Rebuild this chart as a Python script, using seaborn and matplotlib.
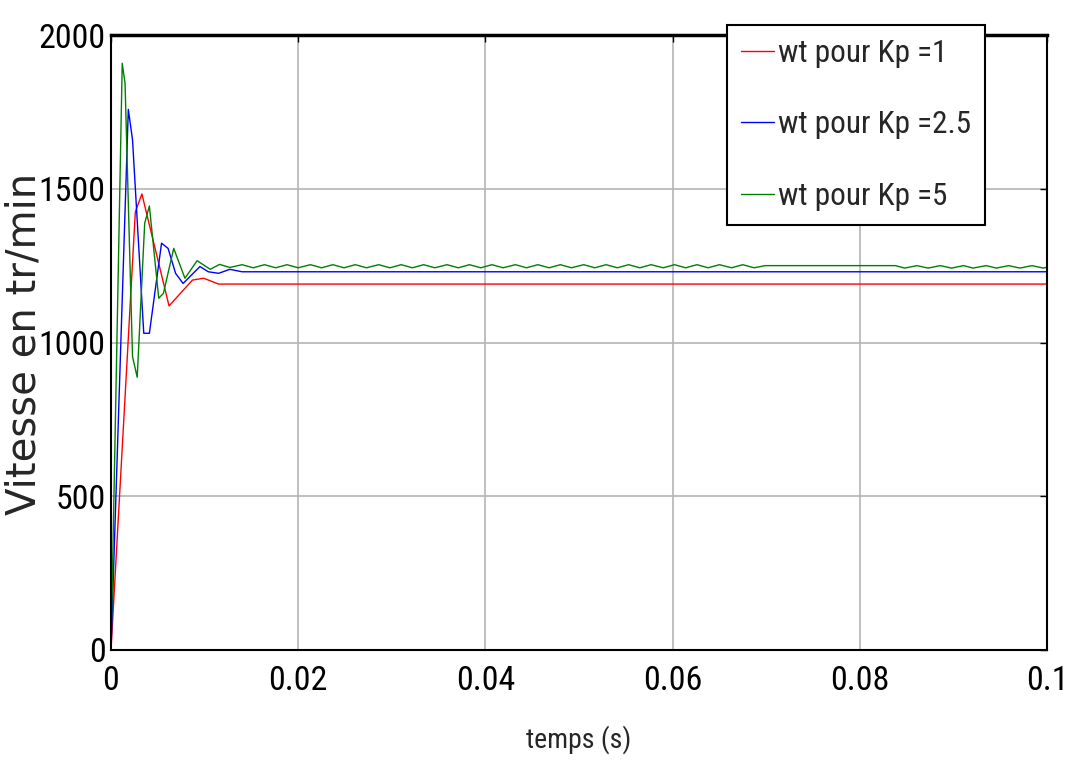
import matplotlib
matplotlib.use("Agg")
import matplotlib.pyplot as plt
from matplotlib import font_manager
import pandas as pd
import seaborn as sns

# values (time in s, speed in tr/min)
labels = ['wt pour Kp =1', 'wt pour Kp =2.5', 'wt pour Kp =5']
colors = ['#ff0000', '#0000ff', '#008000']

red_t = [0, 0.0026, 0.0033, 0.0062, 0.0087, 0.0099, 0.0115, 0.1]
red_v = [0, 1425, 1483, 1119, 1203, 1209, 1190, 1190]

blue_t = [0, 0.00185, 0.0023, 0.0035, 0.0041, 0.0054, 0.0061, 0.0069,
          0.0077, 0.0095, 0.0104, 0.0115, 0.0127, 0.014, 0.1]
blue_v = [0, 1758, 1659, 1030, 1030, 1323, 1306, 1225,
          1192, 1247, 1230, 1225, 1238, 1230, 1230]

# green: transient, then small ripple, flat stretch, ripple again
green_t = [0, 0.0012, 0.0015, 0.0023, 0.0028, 0.0036, 0.0041, 0.0051,
           0.0056, 0.0067, 0.0079, 0.0092, 0.0106, 0.0116, 0.0127]
green_v = [0, 1908, 1843, 954, 887, 1388, 1444, 1144,
           1160, 1306, 1209, 1266, 1238, 1254, 1244]
ripple_peaks_t = [0.0140, 0.0164, 0.0188, 0.0213, 0.0237, 0.0261, 0.0286, 0.0310,
                  0.0334, 0.0359, 0.0383, 0.0407, 0.0432, 0.0456, 0.0480, 0.0505,
                  0.0529, 0.0553, 0.0577, 0.0602, 0.0626, 0.0650, 0.0675]
ripple_troughs_t = [0.0152, 0.0176, 0.0200, 0.0225, 0.0249, 0.0273, 0.0298, 0.0322,
                    0.0346, 0.0371, 0.0395, 0.0419, 0.0444, 0.0468, 0.0492, 0.0517,
                    0.0541, 0.0565, 0.0590, 0.0614, 0.0638, 0.0663, 0.0687]
ripple_hi, ripple_lo = 1253, 1243
flat_t = [0.0699, 0.0838]
flat_v = [1250, 1250]
late_peaks_t = [0.0861, 0.0886, 0.0911, 0.0935, 0.0959, 0.0984]
late_troughs_t = [0.0848, 0.0873, 0.0898, 0.0921, 0.0946, 0.0971, 0.0996]
late_hi, late_lo = 1250, 1242
end_t, end_v = [0.1], [1245]


def build_frame():
    parts = [
        pd.DataFrame({'t': red_t, 'v': red_v, 'serie': labels[0]}),
        pd.DataFrame({'t': blue_t, 'v': blue_v, 'serie': labels[1]}),
    ]
    g = pd.concat([
        pd.DataFrame({'t': green_t, 'v': green_v}),
        pd.DataFrame({'t': ripple_peaks_t, 'v': ripple_hi}),
        pd.DataFrame({'t': ripple_troughs_t, 'v': ripple_lo}),
        pd.DataFrame({'t': flat_t, 'v': flat_v}),
        pd.DataFrame({'t': late_peaks_t, 'v': late_hi}),
        pd.DataFrame({'t': late_troughs_t, 'v': late_lo}),
        pd.DataFrame({'t': end_t, 'v': end_v}),
    ]).sort_values('t')
    g['serie'] = labels[2]
    parts.append(g)
    return pd.concat(parts, ignore_index=True)


df = build_frame()

sns.set_style('white')

# the reference uses a narrow Arial; use a condensed face if present
installed = {f.name for f in font_manager.fontManager.ttflist}
narrow = next((n for n in ['Liberation Sans Narrow', 'Roboto Condensed', 'Open Sans Condensed']
               if n in installed), None)
if narrow:
    plt.rcParams['font.family'] = [narrow, 'DejaVu Sans']
    tick_size, xlab_size, leg_size = 24.5, 20, 22.5
else:
    plt.rcParams['font.family'] = ['Liberation Sans', 'DejaVu Sans']
    tick_size, xlab_size, leg_size = 21, 18, 20

fig = plt.figure(figsize=(10.69, 7.64), dpi=100)
ax = fig.add_axes([111 / 1069, 1 - 650 / 764, 936 / 1069, 615 / 764])

sns.lineplot(data=df, x='t', y='v', hue='serie', hue_order=labels,
             palette=colors, estimator=None, sort=False, linewidth=1.0,
             ax=ax, legend=False)

ax.set_xlim(0, 0.1)
ax.set_ylim(0, 2000)
ax.set_xticks([0, 0.02, 0.04, 0.06, 0.08, 0.1])
ax.set_xticklabels(['0', '0.02', '0.04', '0.06', '0.08', '0.1'])
ax.set_yticks([0, 500, 1000, 1500, 2000])
ax.grid(True, color='#b4b4b4', linewidth=1.2)
ax.set_axisbelow(True)
for s in ax.spines.values():
    s.set_visible(True)
    s.set_color('black')
    s.set_linewidth(1.5)
ax.spines['top'].set_linewidth(2.5)

ax.tick_params(direction='in', length=5, width=1, top=True, right=True,
               labelsize=tick_size, colors='black')
ax.tick_params(axis='x', pad=11)
ax.tick_params(axis='y', pad=4)

ax.set_xlabel('temps (s)', fontsize=xlab_size, labelpad=20)
ax.set_ylabel('Vitesse en tr/min', fontsize=29, fontfamily='DejaVu Sans')
ax.yaxis.set_label_coords(-0.071, 0.497)

handles = [plt.Line2D([], [], color=c, linewidth=1.0) for c in colors]
leg = ax.legend(handles, labels, loc='upper right', bbox_to_anchor=(0.934, 1.016),
                borderaxespad=0, fontsize=leg_size, handlelength=1.05, handletextpad=0.12,
                labelspacing=1.35, borderpad=0.45, fancybox=False, framealpha=1,
                edgecolor='black')
leg.get_frame().set_linewidth(1.5)

plt.savefig('out.png', dpi=100)
